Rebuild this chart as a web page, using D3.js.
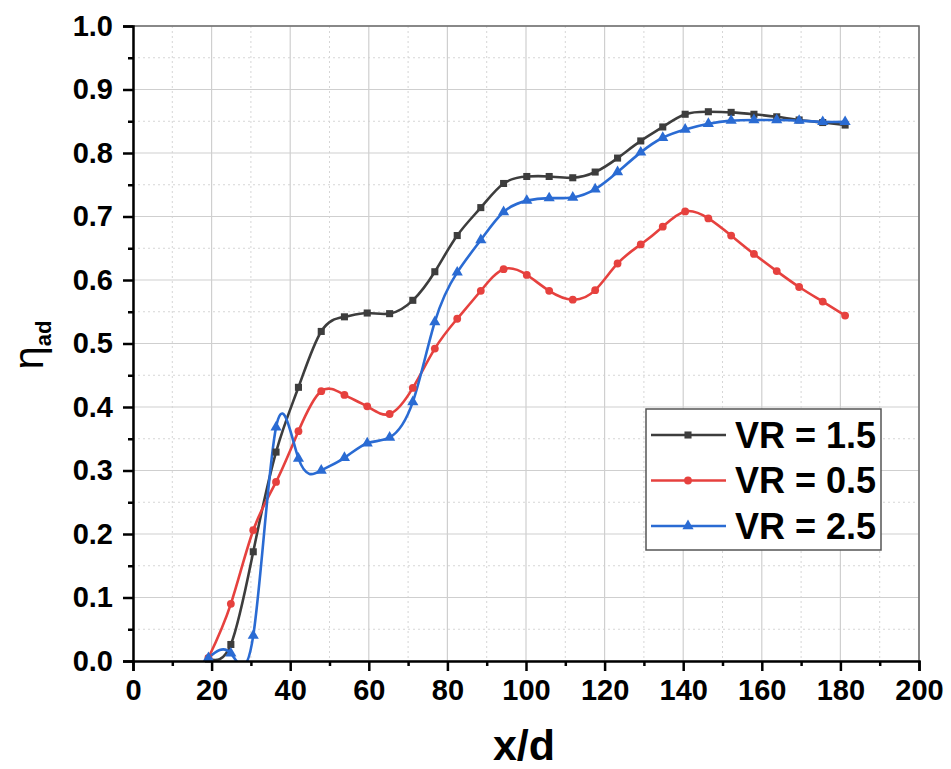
<!DOCTYPE html>
<html>
<head>
<meta charset="utf-8">
<script src="https://cdn.jsdelivr.net/npm/d3@7"></script>
<style>
  body { margin: 0; background: #fff; }
  svg { font-family: "Liberation Sans", Arial, sans-serif; }
</style>
</head>
<body>
<svg id="fig" width="951" height="769"></svg>
<script>
// x/d positions (shared by all three series)
const xd = [19.2, 24.9, 30.6, 36.4, 42.1, 47.9, 53.8, 59.6, 65.3, 71.2, 76.8, 82.5, 88.5, 94.3,
    100.2, 105.9, 111.9, 117.6, 123.3, 129.2, 134.8, 140.5, 146.4, 152.2, 158.0, 163.8, 169.5, 175.5, 181.2];

const vr15 = [0.003, 0.026, 0.172, 0.329, 0.431, 0.519, 0.542, 0.548, 0.547, 0.568, 0.613, 0.670, 0.714, 0.752,
    0.763, 0.763, 0.761, 0.770, 0.792, 0.819, 0.841, 0.861, 0.865, 0.864, 0.861, 0.857, 0.852, 0.848, 0.844];
const vr05 = [0.005, 0.090, 0.206, 0.282, 0.362, 0.425, 0.419, 0.401, 0.389, 0.430, 0.492, 0.539, 0.583, 0.617,
    0.608, 0.583, 0.569, 0.584, 0.626, 0.656, 0.684, 0.708, 0.697, 0.670, 0.641, 0.614, 0.589, 0.566, 0.544];
const vr25 = [0.005, 0.012, 0.040, 0.368, 0.319, 0.300, 0.320, 0.343, 0.352, 0.408, 0.534, 0.612, 0.663, 0.707,
    0.725, 0.729, 0.730, 0.743, 0.770, 0.801, 0.824, 0.837, 0.846, 0.851, 0.852, 0.852, 0.851, 0.849, 0.849];

const seriesNames = ["VR = 1.5", "VR = 0.5", "VR = 2.5"];
const xTicks = d3.range(0, 201, 20);
const yTicks = d3.range(0, 1.01, 0.1);

const series = [
    { name: seriesNames[0], values: vr15, color: "#3d3d3d", symbol: d3.symbolSquare, size: 50 },
    { name: seriesNames[1], values: vr05, color: "#e6413e", symbol: d3.symbolCircle, size: 48 },
    { name: seriesNames[2], values: vr25, color: "#2a6bd3", symbol: d3.symbolTriangle, size: 54 }
];

const svg = d3.select("#fig");
const margin = { left: 133, top: 26, right: 32, bottom: 108 };
const width = 951 - margin.left - margin.right;
const height = 769 - margin.top - margin.bottom;

const x = d3.scaleLinear().domain([0, 200]).range([0, width]);
const y = d3.scaleLinear().domain([0, 1]).range([height, 0]);

const g = svg.append("g").attr("transform", `translate(${margin.left},${margin.top})`);

// grid: minor dotted, major solid
const minorX = d3.range(10, 200, 20), minorY = d3.range(0.05, 1, 0.1);
g.append("g").selectAll("line").data(minorX).join("line")
    .attr("x1", d => x(d)).attr("x2", d => x(d)).attr("y1", 0).attr("y2", height)
    .attr("stroke", "#d6d6d6").attr("stroke-dasharray", "2,3");
g.append("g").selectAll("line").data(minorY).join("line")
    .attr("y1", d => y(d)).attr("y2", d => y(d)).attr("x1", 0).attr("x2", width)
    .attr("stroke", "#d6d6d6").attr("stroke-dasharray", "2,3");
g.append("g").selectAll("line").data(xTicks).join("line")
    .attr("x1", d => x(d)).attr("x2", d => x(d)).attr("y1", 0).attr("y2", height)
    .attr("stroke", "#cfcfcf").attr("stroke-width", 1.2);
g.append("g").selectAll("line").data(yTicks).join("line")
    .attr("y1", d => y(d)).attr("y2", d => y(d)).attr("x1", 0).attr("x2", width)
    .attr("stroke", "#cfcfcf").attr("stroke-width", 1.2);

// top / right frame
g.append("path")
    .attr("d", `M0,0H${width}V${height}`)
    .attr("fill", "none").attr("stroke", "#6a6a6a").attr("stroke-width", 1.5);

// curves
svg.append("defs").append("clipPath").attr("id", "clip")
    .append("rect").attr("width", width).attr("height", height);

const line = d3.line()
    .x(d => x(d[0])).y(d => y(d[1]))
    .curve(d3.curveNatural);

const plot = g.append("g").attr("clip-path", "url(#clip)");
series.forEach(s => {
    const pts = xd.map((v, i) => [v, s.values[i]]);
    plot.append("path")
        .datum(pts)
        .attr("d", line)
        .attr("fill", "none")
        .attr("stroke", s.color)
        .attr("stroke-width", 2.6);
});
series.forEach(s => {
    const pts = xd.map((v, i) => [v, s.values[i]]);
    g.append("g").selectAll("path").data(pts).join("path")
        .attr("transform", d => `translate(${x(d[0])},${y(d[1])})`)
        .attr("d", d3.symbol().type(s.symbol).size(s.size))
        .attr("fill", s.color);
});

// axes
const xAxis = g.append("g").attr("transform", `translate(0,${height})`)
    .call(d3.axisBottom(x).tickValues(xTicks).tickSize(10).tickPadding(8));
const yAxis = g.append("g")
    .call(d3.axisLeft(y).tickValues(yTicks).tickSize(10).tickPadding(10).tickFormat(d3.format(".1f")));
g.append("g").attr("transform", `translate(0,${height})`)
    .call(d3.axisBottom(x).tickValues(minorX).tickSize(5).tickFormat(""))
    .call(a => a.select(".domain").remove());
g.append("g")
    .call(d3.axisLeft(y).tickValues(minorY).tickSize(5).tickFormat(""))
    .call(a => a.select(".domain").remove());

[xAxis, yAxis].forEach(a => {
    a.select(".domain").attr("stroke", "#000").attr("stroke-width", 2.5);
    a.selectAll("text").attr("font-size", 29).attr("font-weight", "bold")
        .attr("fill", "#000").attr("font-family", "Liberation Sans, Arial, sans-serif");
});
g.selectAll(".tick line").attr("stroke", "#000").attr("stroke-width", 2.5);

// axis titles
svg.append("text")
    .attr("x", margin.left + width / 2 - 2).attr("y", 760)
    .attr("text-anchor", "middle")
    .attr("font-size", 43).attr("font-weight", "bold")
    .text("x/d");

const yt = svg.append("text")
    .attr("transform", "translate(43,345) rotate(-90)")
    .attr("text-anchor", "middle")
    .attr("font-size", 42);
yt.append("tspan").text("η");
yt.append("tspan").attr("dy", 8).attr("font-size", 22).attr("font-weight", "bold").text("ad");

// legend
const legend = svg.append("g").attr("transform", "translate(646,409)");
legend.append("rect")
    .attr("width", 235).attr("height", 141)
    .attr("fill", "#fff").attr("stroke", "#555").attr("stroke-width", 1.5);
const rows = legend.selectAll("g.row").data(series).join("g")
    .attr("class", "row")
    .attr("transform", (d, i) => `translate(0,${26 + i * 45.5})`);
rows.append("line")
    .attr("x1", 5).attr("x2", 80)
    .attr("stroke", d => d.color).attr("stroke-width", 2.6);
rows.append("path")
    .attr("transform", "translate(42,0)")
    .attr("d", d => d3.symbol().type(d.symbol).size(d.size)())
    .attr("fill", d => d.color);
rows.append("text")
    .attr("x", 89).attr("dy", "0.36em")
    .attr("font-size", 36).attr("font-weight", "bold")
    .text(d => d.name);
</script>
</body>
</html>
